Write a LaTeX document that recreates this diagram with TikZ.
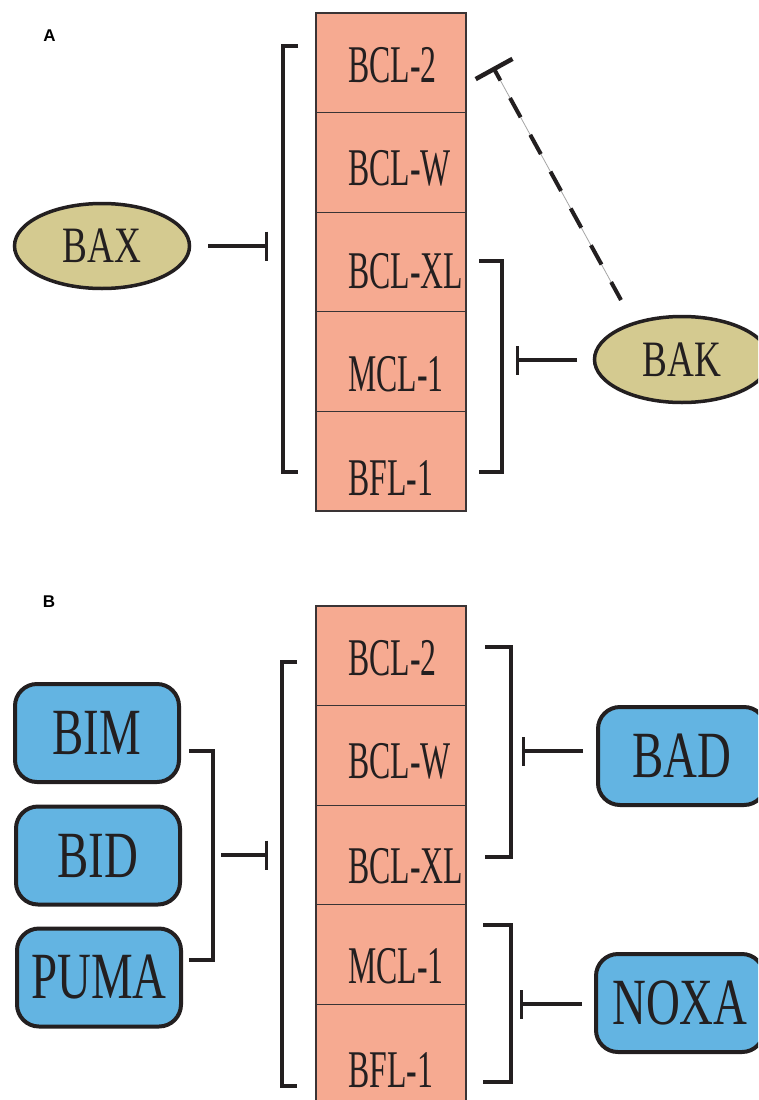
\documentclass[tikz,border=0pt]{standalone}
\usepackage{fontspec}
\setmainfont{Liberation Serif}
\newfontfamily\lsans{Liberation Sans}
\usepackage{graphicx}
\usetikzlibrary{arrows.meta,shapes.geometric}
\definecolor{cellfill}{HTML}{F6AA91}
\definecolor{cellline}{HTML}{3A3435}
\definecolor{eggfill}{HTML}{D4CA90}
\definecolor{boxfill}{HTML}{63B4E2}
\definecolor{ink}{HTML}{231F20}
\newcommand{\stk}[1]{\scalebox{0.6}[1]{\fontsize{53}{53}\selectfont #1}}
\newcommand{\egt}[1]{\scalebox{0.73}[1]{\fontsize{51}{51}\selectfont #1}}
\newcommand{\bxt}[1]{\scalebox{0.71}[1]{\fontsize{66}{66}\selectfont #1}}
\begin{document}
\begin{tikzpicture}[x=1pt,y=-1pt,
  cell/.style={rectangle,draw=cellline,fill=cellfill,line width=1.3pt,minimum width=150pt,minimum height=99.6pt,inner sep=0pt},
  lbl/.style={inner sep=0pt,text=ink,anchor=base west},
  egg/.style={ellipse,draw=ink,fill=eggfill,line width=3.5pt,minimum width=175pt,minimum height=85pt,inner sep=0pt,text=ink},
  bbox/.style={rectangle,rounded corners=22pt,draw=ink,fill=boxfill,line width=4pt,minimum width=164pt,minimum height=98pt,inner sep=0pt,text=ink},
  brk/.style={draw=ink,line width=3.5pt,line join=miter},
  inh/.style={draw=ink,line width=3.2pt,-{Bar[width=29pt]}},
  plabel/.style={inner sep=0pt,anchor=base,font=\lsans\bfseries\fontsize{17}{17}\selectfont,text=black}]
\useasboundingbox (0,0) rectangle (758,1100);
\fill[white] (0,0) rectangle (758,1100);
\clip (0,0) rectangle (758,1100);

% panel labels
\node[plabel] (labA) at (49.5,41) {A};
\node[plabel] (labB) at (49,607) {B};

% ---------------- Panel A ----------------
\node[cell] (a1) at (391,62.8) {};
\node[cell] (a2) at (391,162.4) {};
\node[cell] (a3) at (391,262.0) {};
\node[cell] (a4) at (391,361.6) {};
\node[cell] (a5) at (391,461.2) {};
\node[lbl] (a1t) at (348,82) {\stk{BCL-2}};
\node[lbl] (a2t) at (348,185) {\stk{BCL-W}};
\node[lbl] (a3t) at (348,288) {\stk{BCL-XL}};
\node[lbl] (a4t) at (348,391) {\stk{MCL-1}};
\node[lbl] (a5t) at (348,495) {\stk{BFL-1}};

\node[egg] (bax) at (102,246) {\egt{BAX}};
\node[egg,minimum height=86pt] (bak) at (682,359.5) {\egt{BAK}};

% brackets A
\draw[brk] (298,46) -- (283,46) -- (283,472) -- (298,472);
\draw[brk] (479,261) -- (502,261) -- (502,472) -- (479,472);

% inhibitions A
\coordinate (baxs) at (208,246);
\coordinate (baxe) at (268,246);
\draw[inh] (baxs) -- (baxe);
\coordinate (baks) at (577,360);
\coordinate (bake) at (516,360);
\draw[inh] (baks) -- (bake);

% dashed inhibition BAK -> BCL-2
\coordinate (dT) at (493,67);
\coordinate (dE) at (621,300);
\draw[gray!70,line width=0.8pt] (dT) -- (dE);
\draw[ink,line width=4pt,dash pattern=on 22pt off 20pt,dash phase=10pt,{Bar[width=42pt,line width=4.5pt]}-] (dT) -- (dE);

% ---------------- Panel B ----------------
\node[cell] (b1) at (391,655.8) {};
\node[cell] (b2) at (391,755.4) {};
\node[cell] (b3) at (391,855.0) {};
\node[cell] (b4) at (391,954.6) {};
\node[cell] (b5) at (391,1054.2) {};
\node[lbl] (b1t) at (348,675) {\stk{BCL-2}};
\node[lbl] (b2t) at (348,778) {\stk{BCL-W}};
\node[lbl] (b3t) at (348,883) {\stk{BCL-XL}};
\node[lbl] (b4t) at (348,983) {\stk{MCL-1}};
\node[lbl] (b5t) at (348,1087) {\stk{BFL-1}};

\node[bbox] (bim) at (97,733) {\bxt{BIM}};
\node[bbox] (bid) at (98,855.5) {\bxt{BID}};
\node[bbox] (puma) at (99,977.5) {\bxt{PUMA}};
\node[bbox,minimum width=168pt] (bad) at (682,756) {\bxt{BAD}};
\node[bbox,minimum width=168pt] (noxa) at (680,1003) {\bxt{NOXA}};

% brackets B
\draw[brk] (297,662) -- (282,662) -- (282,1086) -- (297,1086);
\draw[brk] (189,751) -- (213,751) -- (213,960) -- (189,960);
\draw[brk] (485,647) -- (511,647) -- (511,857) -- (485,857);
\draw[brk] (483,925) -- (511,925) -- (511,1082) -- (483,1082);

% inhibitions B
\coordinate (bhs) at (221,855);
\coordinate (bhe) at (268,855);
\draw[inh] (bhs) -- (bhe);
\coordinate (bads) at (583,751);
\coordinate (bade) at (522,751);
\draw[inh] (bads) -- (bade);
\coordinate (noxs) at (582,1004);
\coordinate (noxe) at (520,1004);
\draw[inh] (noxs) -- (noxe);
\end{tikzpicture}
\end{document}
